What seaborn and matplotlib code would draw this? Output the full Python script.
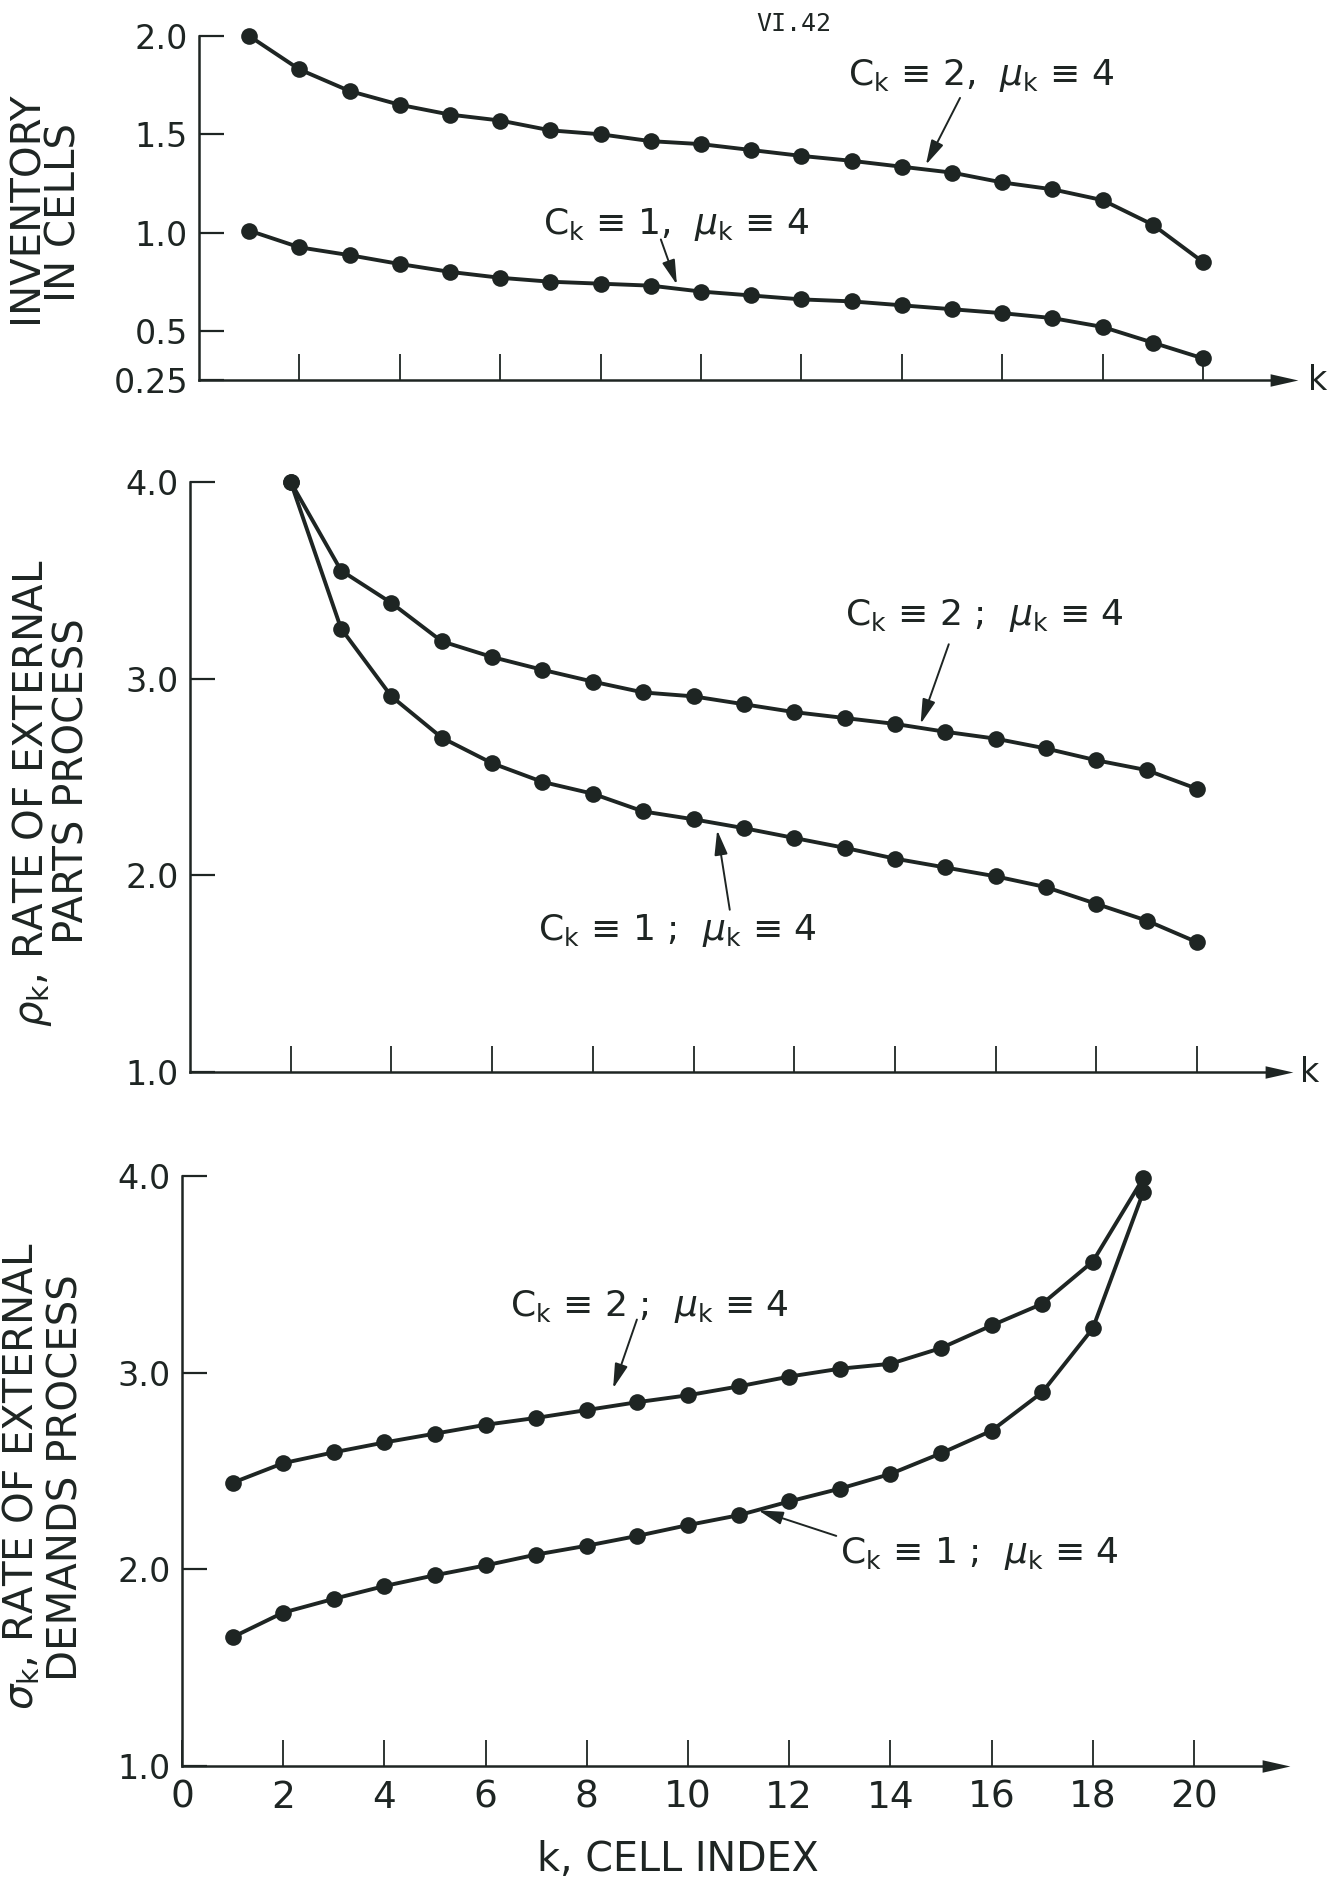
import matplotlib
matplotlib.use("Agg")
import matplotlib.pyplot as plt
import numpy as np
import pandas as pd
import seaborn as sns

# ---------------- data ----------------
k_inventory = list(range(1, 21))
inventory_c2 = [2.00, 1.83, 1.72, 1.65, 1.60, 1.57, 1.52, 1.50, 1.465, 1.45,
                1.42, 1.39, 1.365, 1.335, 1.305, 1.255, 1.22, 1.165, 1.04, 0.85]
inventory_c1 = [1.01, 0.925, 0.885, 0.84, 0.80, 0.77, 0.75, 0.74, 0.73, 0.70,
                0.68, 0.66, 0.65, 0.63, 0.61, 0.59, 0.565, 0.52, 0.44, 0.36]

k_parts = list(range(2, 21))
rho_c2 = [4.00, 3.55, 3.385, 3.19, 3.11, 3.045, 2.985, 2.93, 2.91, 2.87,
          2.83, 2.80, 2.77, 2.73, 2.695, 2.645, 2.585, 2.535, 2.44]
rho_c1 = [4.00, 3.255, 2.91, 2.70, 2.57, 2.475, 2.415, 2.325, 2.285, 2.24,
          2.19, 2.14, 2.085, 2.04, 1.995, 1.94, 1.855, 1.77, 1.66]

k_demands = list(range(1, 20))
sigma_c2 = [2.44, 2.54, 2.595, 2.645, 2.69, 2.735, 2.77, 2.81, 2.85, 2.885,
            2.93, 2.98, 3.02, 3.045, 3.125, 3.24, 3.35, 3.565, 3.99]
sigma_c1 = [1.655, 1.78, 1.85, 1.915, 1.97, 2.02, 2.075, 2.12, 2.17, 2.225,
            2.275, 2.345, 2.41, 2.485, 2.59, 2.705, 2.90, 3.225, 3.92]

inv_yticks = [0.25, 0.5, 1.0, 1.5, 2.0]
inv_yticklabels = ["0.25", "0.5", "1.0", "1.5", "2.0"]
rate_yticks = [1.0, 2.0, 3.0, 4.0]
rate_yticklabels = ["1.0", "2.0", "3.0", "4.0"]
k_ticks = list(range(2, 21, 2))
bottom_xticks = list(range(0, 21, 2))
bottom_xticklabels = [str(v) for v in bottom_xticks]

label_c2_comma = r"C$_{\mathrm{k}}$ ≡ 2,  $\mu_{\mathrm{k}}$ ≡ 4"
label_c1_comma = r"C$_{\mathrm{k}}$ ≡ 1,  $\mu_{\mathrm{k}}$ ≡ 4"
label_c2_semi = r"C$_{\mathrm{k}}$ ≡ 2 ;  $\mu_{\mathrm{k}}$ ≡ 4"
label_c1_semi = r"C$_{\mathrm{k}}$ ≡ 1 ;  $\mu_{\mathrm{k}}$ ≡ 4"

# ---------------- style ----------------
sns.set_theme(style="white")
plt.rcParams["font.family"] = ["DejaVu Sans"]
plt.rcParams["mathtext.fontset"] = "dejavusans"

INK = "#1e2523"
W, H = 1331, 1879
XMAX = 21.62
ANN_FS = 26

fig = plt.figure(figsize=(W / 100, H / 100), dpi=100)
fig.patch.set_facecolor("white")


def add_ax(left, top, bottom, unit):
    width = XMAX * unit
    return fig.add_axes([left / W, 1 - bottom / H, width / W, (bottom - top) / H])


ax1 = add_ax(199, 36, 380, 50.2)
ax2 = add_ax(190, 482, 1072, 50.35)
ax3 = add_ax(182, 1176, 1766, 50.6)

arrow_marker = [(-1, -0.45), (1, 0), (-1, 0.45), (-1, -0.45)]


def style(ax, ylim, yticks, ylabels, xticks, xlabels=None, kx=None):
    ax.set_facecolor("none")
    ax.grid(False)
    ax.set_xlim(0, XMAX)
    ax.set_ylim(*ylim)
    for s in ["top", "right"]:
        ax.spines[s].set_visible(False)
    for s in ["left", "bottom"]:
        ax.spines[s].set_linewidth(1.8)
        ax.spines[s].set_color(INK)
    ax.set_yticks(yticks)
    ax.set_yticklabels(ylabels)
    ax.set_xticks(xticks)
    ax.tick_params(axis="both", left=True, bottom=True, top=False, right=False)
    if xlabels is None:
        ax.tick_params(axis="x", labelbottom=False)
    else:
        ax.set_xticklabels(xlabels)
    ax.tick_params(axis="y", direction="in", length=18, width=1.6, pad=8,
                   labelsize=24, colors=INK)
    ax.tick_params(axis="x", direction="in", length=19, width=1.3, pad=10,
                   labelsize=27, colors=INK)
    ax.set_xlabel("")
    ax.set_ylabel("")
    ax.plot([1], [0], marker=arrow_marker, markersize=20, color=INK,
            transform=ax.transAxes, clip_on=False, markeredgewidth=0)
    if kx is not None:
        ax.text(kx, ylim[0], "k", fontsize=24, color=INK, ha="left",
                va="center", clip_on=False)


def curve(ax, x, y):
    sns.lineplot(x=x, y=y, ax=ax, color=INK, linewidth=2.8, marker="o",
                 markersize=12, markeredgewidth=0, clip_on=False,
                 estimator=None, sort=False)


def arrow(ax, tail, head):
    ax.annotate("", xy=head, xytext=tail,
                arrowprops=dict(arrowstyle="-|>,head_length=0.6,head_width=0.16",
                                mutation_scale=25, lw=1.4, color=INK,
                                shrinkA=0, shrinkB=0))


def label(ax, x, y, s):
    ax.text(x, y, s, fontsize=ANN_FS, color=INK, ha="left", va="baseline")


# ---- top: inventory ----
curve(ax1, k_inventory, inventory_c2)
curve(ax1, k_inventory, inventory_c1)
style(ax1, (0.25, 2.0), inv_yticks, inv_yticklabels, k_ticks, kx=22.1)
label(ax1, 12.93, 1.75, label_c2_comma)
arrow(ax1, (15.16, 1.685), (14.48, 1.345))
label(ax1, 6.85, 0.995, label_c1_comma)
arrow(ax1, (9.2, 0.965), (9.52, 0.735))

# ---- middle: parts ----
curve(ax2, k_parts, rho_c2)
curve(ax2, k_parts, rho_c1)
style(ax2, (1.0, 4.0), rate_yticks, rate_yticklabels, k_ticks, kx=22.05)
label(ax2, 13.0, 3.275, label_c2_semi)
arrow(ax2, (15.07, 3.175), (14.51, 2.77))
label(ax2, 6.92, 1.67, label_c1_semi)
arrow(ax2, (10.72, 1.825), (10.47, 2.23))

# ---- bottom: demands ----
curve(ax3, k_demands, sigma_c2)
curve(ax3, k_demands, sigma_c1)
style(ax3, (1.0, 4.0), rate_yticks, rate_yticklabels, bottom_xticks, bottom_xticklabels)
label(ax3, 6.48, 3.29, label_c2_semi)
arrow(ax3, (8.99, 3.27), (8.52, 2.92))
label(ax3, 13.0, 2.03, label_c1_semi)
arrow(ax3, (12.93, 2.17), (11.39, 2.30))

# ---- axis titles ----
ylab_kw = dict(rotation=90, ha="center", va="center", fontsize=29, color=INK)
fig.text(27 / W, 1 - 207 / H, "INVENTORY", **ylab_kw)
fig.text(65 / W, 1 - 212 / H, "IN CELLS", **ylab_kw)
fig.text(32 / W, 1 - 793 / H, r"$\rho_{\mathrm{k}}$, RATE OF EXTERNAL", **ylab_kw)
fig.text(73 / W, 1 - 781 / H, "PARTS PROCESS", **ylab_kw)
fig.text(22 / W, 1 - 1476 / H, r"$\sigma_{\mathrm{k}}$, RATE OF EXTERNAL", **ylab_kw)
fig.text(67 / W, 1 - 1478 / H, "DEMANDS PROCESS", **ylab_kw)

fig.text(678 / W, 1 - 1860 / H, "k, CELL INDEX", ha="center", va="center",
         fontsize=28.5, color=INK)
fig.text(794 / W, 1 - 24 / H, "VI.42", ha="center", va="center",
         fontsize=18, color=INK, family=["DejaVu Sans Mono"])

fig.savefig("out.png", dpi=100, facecolor="white")
